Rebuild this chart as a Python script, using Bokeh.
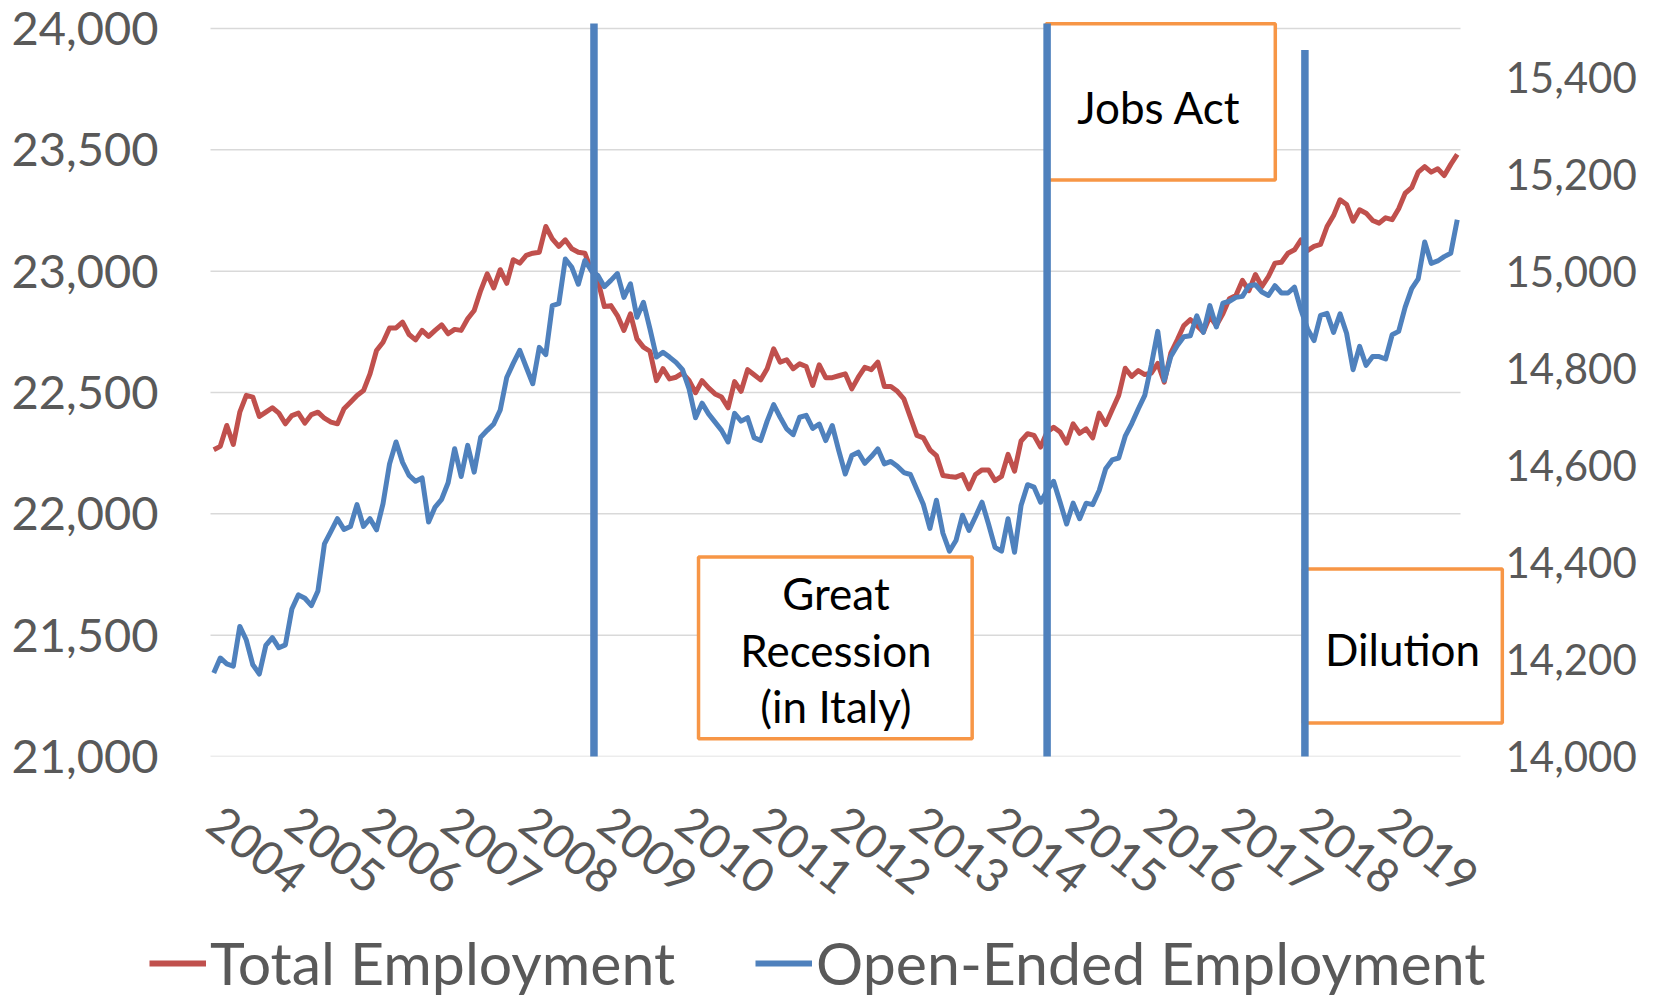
import numpy as np
from bokeh.plotting import figure
from bokeh.layouts import column
from bokeh.models import (Range1d, LinearAxis, FixedTicker, Legend, LegendItem,
                          BoxAnnotation, Label, NumeralTickFormatter)
from bokeh.embed import file_html
from bokeh.resources import INLINE

# ---------------- data (monthly, thousands) ----------------
years = list(range(2004, 2020))

total_employment = [
    22264, 22278, 22364, 22286, 22419, 22488, 22481, 22401, 22419, 22437, 22415, 22371,  # 2004
    22405, 22415, 22374, 22409, 22419, 22394, 22378, 22371, 22433, 22460, 22488, 22508,  # 2005
    22577, 22673, 22707, 22766, 22766, 22790, 22739, 22717, 22756, 22731, 22756, 22779,  # 2006
    22742, 22760, 22756, 22804, 22838, 22920, 22989, 22931, 23006, 22950, 23047, 23033,  # 2007
    23065, 23074, 23078, 23184, 23133, 23102, 23129, 23092, 23078, 23074, 23003, 22962,  # 2008
    22854, 22858, 22817, 22756, 22824, 22721, 22687, 22670, 22549, 22598, 22556, 22563,  # 2009
    22580, 22550, 22499, 22549, 22519, 22494, 22481, 22437, 22545, 22505, 22594, 22573,  # 2010
    22552, 22598, 22680, 22625, 22635, 22598, 22618, 22607, 22529, 22614, 22561, 22561,  # 2011
    22569, 22577, 22515, 22563, 22604, 22594, 22625, 22525, 22525, 22505, 22474, 22398,  # 2012
    22323, 22313, 22264, 22240, 22158, 22154, 22151, 22162, 22103, 22162, 22181, 22181,  # 2013
    22137, 22154, 22245, 22176, 22300, 22330, 22323, 22275, 22337, 22357, 22337, 22291,  # 2014
    22371, 22332, 22350, 22313, 22415, 22368, 22429, 22488, 22600, 22566, 22590, 22574,  # 2015
    22580, 22620, 22543, 22662, 22717, 22776, 22800, 22776, 22749, 22813, 22776, 22824,  # 2016
    22886, 22900, 22962, 22920, 22986, 22937, 22978, 23033, 23037, 23074, 23088, 23129,  # 2017
    23085, 23102, 23110, 23184, 23229, 23294, 23275, 23206, 23253, 23239, 23209, 23198,  # 2018
    23220, 23212, 23257, 23321, 23344, 23408, 23431, 23408, 23422, 23394, 23440, 23481,  # 2019
]

open_ended_employment = [
    14172, 14203, 14191, 14186, 14268, 14240, 14189, 14170, 14229, 14245, 14224, 14230,  # 2004
    14304, 14333, 14326, 14311, 14341, 14438, 14464, 14490, 14468, 14474, 14519, 14474,  # 2005
    14490, 14467, 14521, 14603, 14648, 14606, 14579, 14567, 14574, 14483, 14514, 14530,  # 2006
    14564, 14634, 14577, 14641, 14586, 14658, 14672, 14685, 14714, 14781, 14810, 14837,  # 2007
    14802, 14768, 14843, 14828, 14929, 14933, 15025, 15008, 14973, 15022, 15001, 14991,  # 2008
    14968, 14981, 14995, 14946, 14974, 14905, 14936, 14881, 14823, 14833, 14823, 14812,  # 2009
    14797, 14758, 14698, 14728, 14706, 14689, 14672, 14648, 14707, 14691, 14698, 14657,  # 2010
    14651, 14691, 14725, 14699, 14675, 14663, 14699, 14703, 14676, 14685, 14651, 14682,  # 2011
    14630, 14582, 14620, 14627, 14604, 14618, 14634, 14603, 14608, 14598, 14585, 14581,  # 2012
    14550, 14519, 14470, 14528, 14460, 14423, 14445, 14497, 14466, 14494, 14524, 14479,  # 2013
    14431, 14423, 14490, 14421, 14517, 14560, 14555, 14524, 14548, 14567, 14524, 14479,  # 2014
    14522, 14490, 14522, 14519, 14548, 14593, 14611, 14615, 14660, 14686, 14716, 14744,  # 2015
    14806, 14876, 14775, 14824, 14847, 14865, 14867, 14908, 14874, 14929, 14885, 14934,  # 2016
    14938, 14946, 14948, 14970, 14972, 14957, 14950, 14970, 14955, 14955, 14967, 14920,  # 2017
    14881, 14857, 14909, 14913, 14874, 14912, 14872, 14797, 14845, 14806, 14824, 14824,  # 2018
    14819, 14869, 14876, 14926, 14964, 14984, 15060, 15016, 15021, 15030, 15037, 15106,  # 2019
]

left_ticks = [21000, 21500, 22000, 22500, 23000, 23500, 24000]
right_ticks = [14000, 14200, 14400, 14600, 14800, 15000, 15200, 15400]
series_names = ["Total Employment", "Open-Ended Employment"]

# events (month index since Jan 2004) and the top of their marker lines (left-axis units)
event_positions = [58.4, 128.0, 167.6]
event_tops = [24021, 24021, 23911]

# ---------------- styling ----------------
RED = "#C0504D"
BLUE = "#4F81BD"
ORANGE = "#F79646"
GREY = "#595959"
FONT = "Lato"

months = np.arange(len(total_employment))
x_lo, x_hi = -0.5, len(months) - 0.5

# the frame is a little larger than the data area (call-out boxes, legend alignment)
p = figure(frame_width=1356, frame_height=735,
           min_border_left=149, min_border_right=151,
           min_border_top=21, min_border_bottom=168,
           x_range=Range1d(-9.87, 198.41),
           y_range=Range1d(21000, 24028.8),
           output_backend="svg", toolbar_location=None)
p.extra_y_ranges = {"right": Range1d(14000, 15514.4)}
p.outline_line_color = None
p.background_fill_color = "white"
p.border_fill_color = "white"

# left axis
p.yaxis.ticker = FixedTicker(ticks=left_ticks)
p.yaxis.formatter = NumeralTickFormatter(format="0,0")
p.yaxis.axis_line_color = None
p.yaxis.major_tick_line_color = None
p.yaxis.minor_tick_line_color = None
p.yaxis.major_tick_out = 0
p.yaxis.major_tick_in = 0
p.yaxis.major_label_standoff = -9
p.yaxis.major_label_text_font = FONT
p.yaxis.major_label_text_font_size = "47px"
p.yaxis.major_label_text_color = GREY

# right axis
ra = LinearAxis(y_range_name="right", ticker=FixedTicker(ticks=right_ticks),
                formatter=NumeralTickFormatter(format="0,0"))
ra.axis_line_color = None
ra.major_tick_line_color = None
ra.minor_tick_line_color = None
ra.major_tick_out = 0
ra.major_tick_in = 0
ra.major_label_standoff = 0
ra.major_label_text_font = FONT
ra.major_label_text_font_size = "42px"
ra.major_label_text_color = GREY
p.add_layout(ra, "right")

# bottom axis: one label per year, at its January
year_ticks = [12 * k for k in range(len(years))]
p.xaxis.ticker = FixedTicker(ticks=year_ticks)
p.xaxis.major_label_overrides = {t: str(y) for t, y in zip(year_ticks, years)}
p.xaxis.major_label_orientation = -38 * np.pi / 180
p.xaxis.axis_line_color = None
p.xaxis.major_tick_line_color = None
p.xaxis.minor_tick_line_color = None
p.xaxis.major_tick_out = 0
p.xaxis.major_tick_in = 0
p.xaxis.major_label_standoff = 60
p.xaxis.major_label_text_font = FONT
p.xaxis.major_label_text_font_size = "47px"
p.xaxis.major_label_text_color = GREY

# horizontal grid lines over the data area only
p.xgrid.grid_line_color = None
p.ygrid.grid_line_color = None
p.segment(x0=[x_lo] * len(left_ticks), x1=[x_hi] * len(left_ticks),
          y0=left_ticks, y1=left_ticks, line_color="#D9D9D9", line_width=1.5,
          level="underlay")

# series
r_total = p.line(months, total_employment, color=RED, line_width=5, line_join="round")
r_open = p.line(months, open_ended_employment, color=BLUE, line_width=5,
                line_join="round", y_range_name="right")

# call-out boxes
boxes = [
    dict(left=127.84, right=163.05, top=24020, bottom=23376),
    dict(left=74.46, right=116.49, top=21822, bottom=21073),
    dict(left=167.35, right=197.92, top=21773, bottom=21138),
]
for b in boxes:
    p.add_layout(BoxAnnotation(left=b["left"], right=b["right"], top=b["top"], bottom=b["bottom"],
                               fill_color="white", fill_alpha=1.0,
                               line_color=ORANGE, line_width=3.5, line_alpha=1.0))

texts = [
    ("Jobs Act", 145.2, 23675),
    ("Great", 95.57, 21672),
    ("Recession", 95.57, 21439),
    ("(in Italy)", 95.57, 21208),
    ("Dilution", 182.6, 21443),
]
for t, x, y in texts:
    p.add_layout(Label(x=x, y=y, text=t, text_align="center", text_baseline="middle",
                       text_font=FONT, text_font_size="44px", text_color="black"))

# event lines
p.segment(x0=event_positions, y0=[21000] * len(event_positions),
          x1=event_positions, y1=event_tops,
          line_color=BLUE, line_width=7.5, level="overlay")

# ---------------- legend strip below the chart ----------------
pl = figure(frame_width=1356, frame_height=77,
            min_border_left=149, min_border_right=151, min_border_top=0, min_border_bottom=0,
            x_range=Range1d(0, 1), y_range=Range1d(0, 1),
            x_axis_location=None, y_axis_location=None,
            output_backend="svg", toolbar_location=None)
pl.outline_line_color = None
pl.grid.visible = False
# same series in the strip (they fall outside its ranges; only their legend swatches show)
lr_total = pl.line(months, total_employment, color=RED, line_width=6)
lr_open = pl.line(months, open_ended_employment, color=BLUE, line_width=6)
legend = Legend(items=[LegendItem(label=series_names[0], renderers=[lr_total]),
                       LegendItem(label=series_names[1], renderers=[lr_open])],
                orientation="horizontal", location=(0, 3),
                glyph_width=57, glyph_height=60, label_height=60,
                label_standoff=4, spacing=80, padding=0, margin=0,
                border_line_color=None, background_fill_alpha=0,
                label_text_font=FONT, label_text_font_size="59px",
                label_text_color=GREY)
pl.add_layout(legend)

layout = column(p, pl, spacing=0)
open("out.html", "w").write(file_html(layout, INLINE))
